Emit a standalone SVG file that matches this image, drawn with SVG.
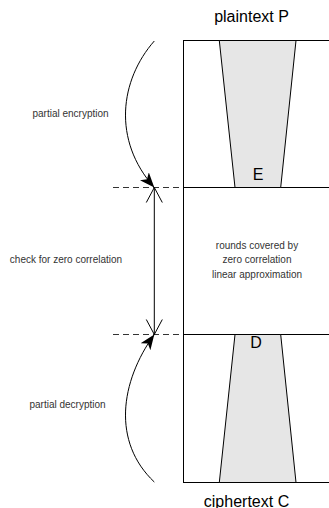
<svg xmlns="http://www.w3.org/2000/svg" width="329" height="508" viewBox="0 0 329 508">
<style>
.big{font-family:"Liberation Sans",Arial,sans-serif;font-size:16px;fill:#000;text-anchor:middle}
.small{font-family:"Liberation Sans",Arial,sans-serif;font-size:10px;fill:#333;text-anchor:middle}
.ln{stroke:#000;stroke-width:1;fill:none}
.dash{stroke:#333;stroke-width:1;stroke-dasharray:6 4;fill:none}
.trap{fill:#e6e6e6;stroke:#000;stroke-width:1}
</style>
<defs>
<marker id="filled" markerUnits="userSpaceOnUse" markerWidth="16" markerHeight="12" viewBox="0 0 16 12" refX="15" refY="6" orient="auto">
<path d="M0,0 L15,6 L0,12 L4,6 Z" fill="#000"/>
</marker>
<marker id="open" markerUnits="userSpaceOnUse" markerWidth="17" markerHeight="18" viewBox="-1 -1 17 18" refX="15" refY="8" orient="auto">
<path d="M0,0 L15,8 L0,16" fill="none" stroke="#000" stroke-width="1"/>
</marker>
</defs>
<g id="cipher">
<rect x="183.5" y="40.5" width="200" height="442" class="ln"/>
<line x1="183.5" y1="187.5" x2="329" y2="187.5" class="ln"/>
<line x1="183.5" y1="334.5" x2="329" y2="334.5" class="ln"/>
</g>
<g id="enc">
<polygon points="219.3,40.5 296,40.5 280.7,187.5 235,187.5" class="trap"/>
<text x="258" y="180" class="big">E</text>
</g>
<g id="dec">
<polygon points="235,334.5 280.7,334.5 296,482.5 219.3,482.5" class="trap"/>
<text x="256" y="348" class="big">D</text>
</g>
<g id="labels">
<text x="251.5" y="22" class="big">plaintext P</text>
<text x="246.5" y="507" class="big">ciphertext C</text>
<text x="70.5" y="116.5" class="small">partial encryption</text>
<text x="66" y="262.5" class="small">check for zero correlation</text>
<text x="67.5" y="407.5" class="small">partial decryption</text>
<text x="257" y="248.5" class="small">rounds covered by</text>
<text x="257" y="263" class="small">zero correlation</text>
<text x="257" y="277.5" class="small">linear approximation</text>
</g>
<g id="connectors">
<line x1="113" y1="187.5" x2="183" y2="187.5" class="dash"/>
<line x1="113" y1="334.5" x2="183" y2="334.5" class="dash"/>
<path d="M154.3,41 C120,80 112,140 154.3,187.5" class="ln" marker-end="url(#filled)"/>
<path d="M154.3,482 C112,442 120,382 154.3,334.5" class="ln" marker-end="url(#filled)"/>
<line x1="154.3" y1="260" x2="154.3" y2="187.5" class="ln" marker-end="url(#open)"/>
<line x1="154.3" y1="260" x2="154.3" y2="334.5" class="ln" marker-end="url(#open)"/>
</g>
</svg>
